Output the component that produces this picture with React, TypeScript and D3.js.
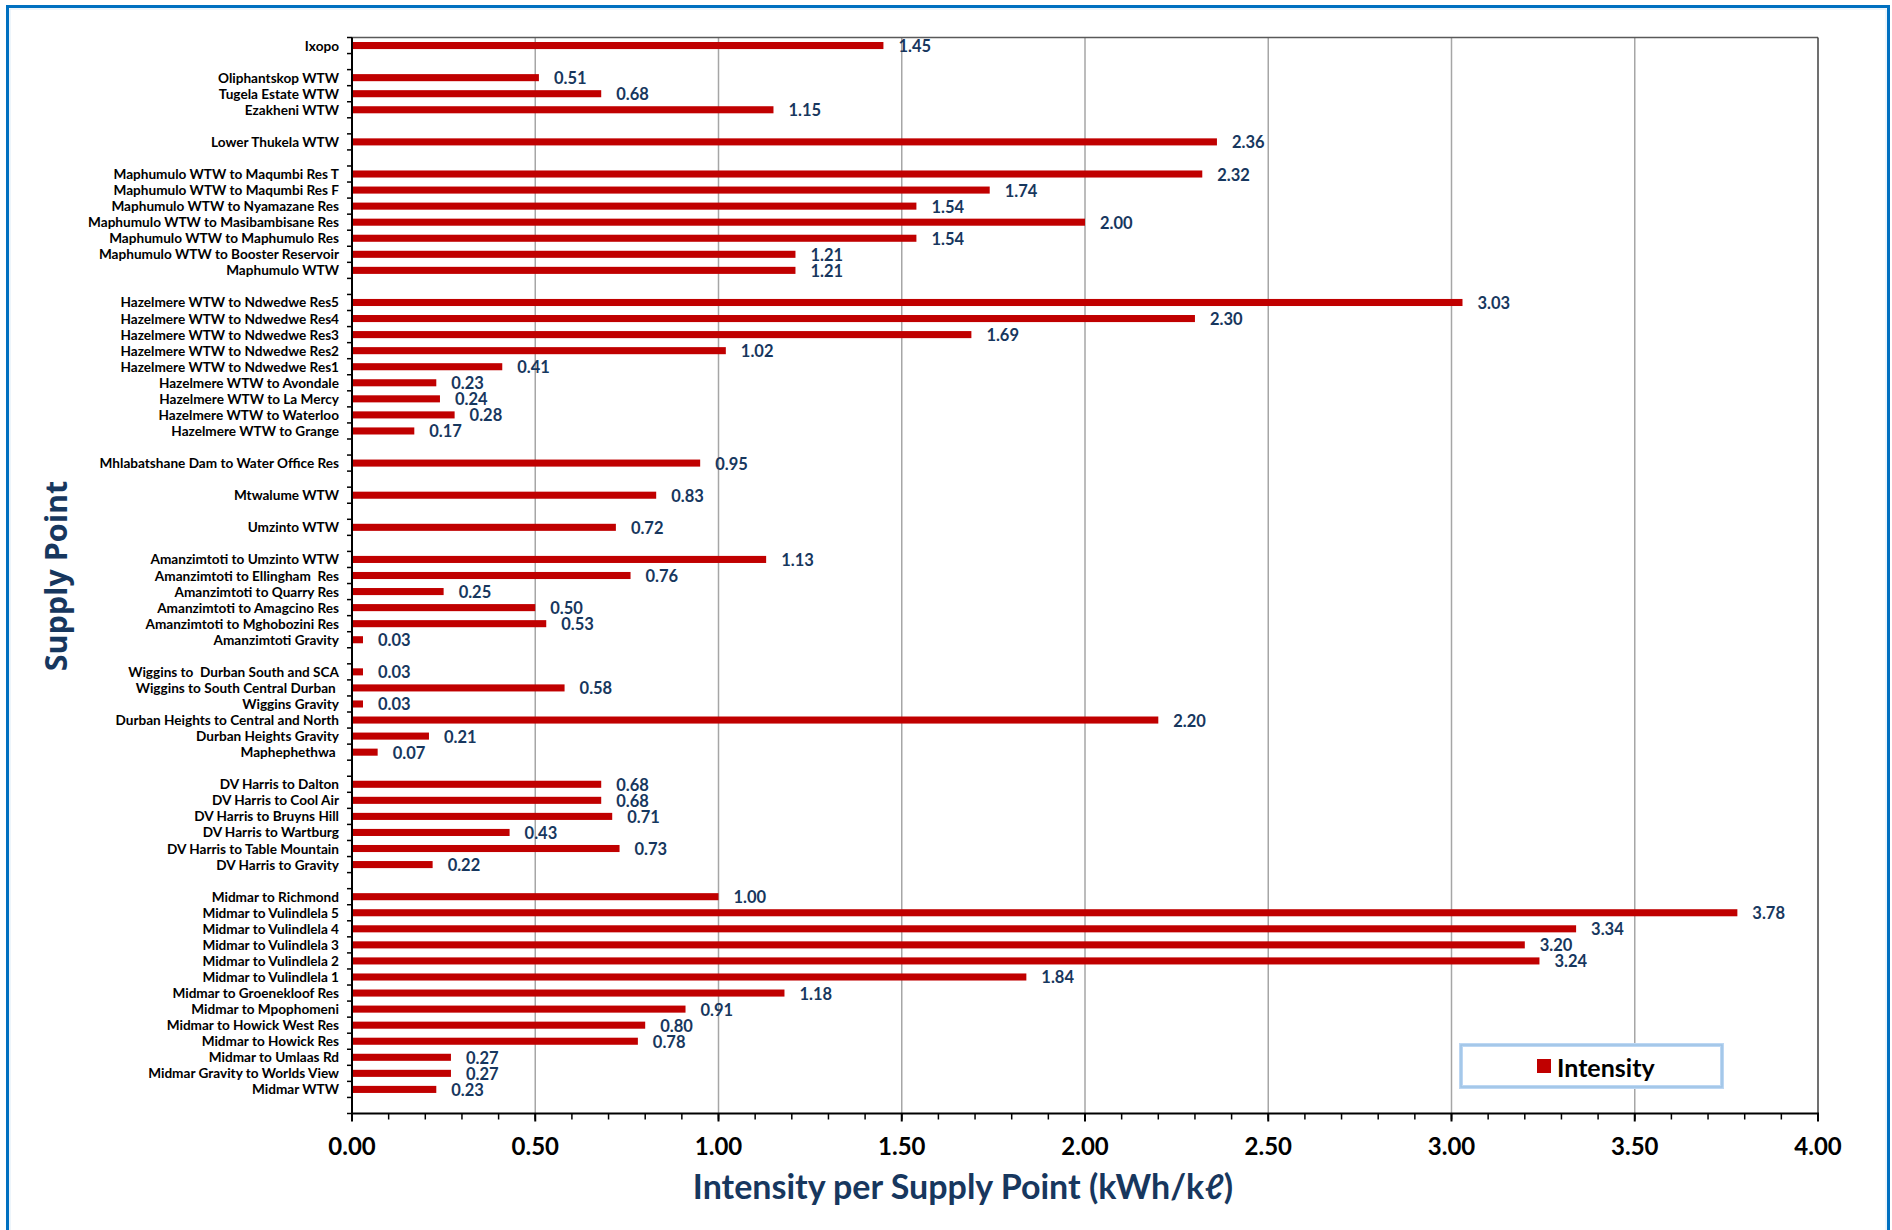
import React from "react";
import * as d3 from "d3";

// Categories top-to-bottom ("" = empty spacer category)
const categories: string[] = [
  "Ixopo", "",
  "Oliphantskop WTW", "Tugela Estate WTW", "Ezakheni WTW", "",
  "Lower Thukela WTW", "",
  "Maphumulo WTW to Maqumbi Res T", "Maphumulo WTW to Maqumbi Res F", "Maphumulo WTW to Nyamazane Res",
  "Maphumulo WTW to Masibambisane Res", "Maphumulo WTW to Maphumulo Res", "Maphumulo WTW to Booster Reservoir",
  "Maphumulo WTW", "",
  "Hazelmere WTW to Ndwedwe Res5", "Hazelmere WTW to Ndwedwe Res4", "Hazelmere WTW to Ndwedwe Res3",
  "Hazelmere WTW to Ndwedwe Res2", "Hazelmere WTW to Ndwedwe Res1", "Hazelmere WTW to Avondale",
  "Hazelmere WTW to La Mercy", "Hazelmere WTW to Waterloo", "Hazelmere WTW to Grange", "",
  "Mhlabatshane Dam to Water Office Res", "",
  "Mtwalume WTW", "",
  "Umzinto WTW", "",
  "Amanzimtoti to Umzinto WTW", "Amanzimtoti to Ellingham  Res", "Amanzimtoti to Quarry Res",
  "Amanzimtoti to Amagcino Res", "Amanzimtoti to Mghobozini Res", "Amanzimtoti Gravity", "",
  "Wiggins to  Durban South and SCA", "Wiggins to South Central Durban ", "Wiggins Gravity",
  "Durban Heights to Central and North", "Durban Heights Gravity", "Maphephethwa ", "",
  "DV Harris to Dalton", "DV Harris to Cool Air", "DV Harris to Bruyns Hill", "DV Harris to Wartburg",
  "DV Harris to Table Mountain", "DV Harris to Gravity", "",
  "Midmar to Richmond", "Midmar to Vulindlela 5", "Midmar to Vulindlela 4", "Midmar to Vulindlela 3",
  "Midmar to Vulindlela 2", "Midmar to Vulindlela 1", "Midmar to Groenekloof Res", "Midmar to Mpophomeni",
  "Midmar to Howick West Res", "Midmar to Howick Res", "Midmar to Umlaas Rd", "Midmar Gravity to Worlds View",
  "Midmar WTW", "",
];

const intensity: (number | null)[] = [
  1.45, null,
  0.51, 0.68, 1.15, null,
  2.36, null,
  2.32, 1.74, 1.54, 2.0, 1.54, 1.21, 1.21, null,
  3.03, 2.3, 1.69, 1.02, 0.41, 0.23, 0.24, 0.28, 0.17, null,
  0.95, null,
  0.83, null,
  0.72, null,
  1.13, 0.76, 0.25, 0.5, 0.53, 0.03, null,
  0.03, 0.58, 0.03, 2.2, 0.21, 0.07, null,
  0.68, 0.68, 0.71, 0.43, 0.73, 0.22, null,
  1.0, 3.78, 3.34, 3.2, 3.24, 1.84, 1.18, 0.91, 0.8, 0.78, 0.27, 0.27, 0.23, null,
];

const xMajorTicks = [0, 0.5, 1, 1.5, 2, 2.5, 3, 3.5, 4];
const xMinorTicks = d3.range(0, 40.5, 1).map((d) => d / 10);

const seriesName = "Intensity";
const xTitle = "Intensity per Supply Point (kWh/kℓ)";
const yTitle = "Supply Point";

const W = 1892;
const H = 1230;
const plot = { left: 352, right: 1818, top: 37.5, bottom: 1113.5 };
const BAR = "#C00000";
const NAVY = "#17375E";

export default function App() {
  const x = d3.scaleLinear().domain([0, 4]).range([plot.left, plot.right]);
  const idx = d3.range(categories.length);
  const y = d3
    .scaleBand<number>()
    .domain(idx)
    .range([plot.top, plot.bottom])
    .paddingInner(0.56)
    .paddingOuter(0.28);
  const step = y.step();
  const bw = y.bandwidth();
  const rowCenter = (i: number) => (y(i) as number) + bw / 2;
  const boundaries = d3.range(categories.length + 1).map((k) => plot.top + k * step);

  return (
    <div style={{ position: "absolute", left: 0, top: 0, width: W, height: H, background: "#fff" }}>
      <svg width={W} height={H} style={{ display: "block" }}>
        <rect x={0} y={0} width={W} height={H} fill="#fff" />
        {/* outer frame */}
        <rect x={7.5} y={6.5} width={1881} height={1260} fill="none" stroke="#0070C0" strokeWidth={3} />
        <rect x={10} y={9} width={1876} height={1260} fill="none" stroke="#DCEBF8" strokeWidth={1} />

        {/* gridlines */}
        {xMajorTicks.filter((t) => t > 0 && t < 4).map((t) => (
          <line key={"g" + t} x1={x(t)} x2={x(t)} y1={plot.top} y2={plot.bottom} stroke="#A6A6A6" strokeWidth={1.5} />
        ))}
        {/* top and right border */}
        <line x1={plot.left} x2={plot.right} y1={plot.top} y2={plot.top} stroke="#595959" strokeWidth={1.5} />
        <line x1={plot.right} x2={plot.right} y1={plot.top} y2={plot.bottom} stroke="#404040" strokeWidth={1.5} />

        {/* bars */}
        {idx.map((i) =>
          intensity[i] == null ? null : (
            <rect key={"b" + i} x={x(0)} y={y(i)} width={x(intensity[i] as number) - x(0)} height={bw} fill={BAR} />
          )
        )}

        {/* data labels */}
        {idx.map((i) =>
          intensity[i] == null ? null : (
            <text
              key={"l" + i}
              x={x(intensity[i] as number) + 15}
              y={rowCenter(i) + 0.5}
              dominantBaseline="central"
              fontFamily="Lato, 'Open Sans', sans-serif"
              fontWeight={700}
              fontSize={16.5}
              fill={NAVY}
            >
              {(intensity[i] as number).toFixed(2)}
            </text>
          )
        )}

        {/* y axis */}
        <line x1={plot.left} x2={plot.left} y1={plot.top} y2={plot.bottom + 1} stroke="#000" strokeWidth={2} />
        {boundaries.map((b, k) => (
          <line key={"yt" + k} x1={plot.left - 5} x2={plot.left} y1={b} y2={b} stroke="#000" strokeWidth={1.5} />
        ))}
        {idx.map((i) =>
          categories[i] === "" ? null : (
            <text
              key={"c" + i}
              x={plot.left - 13}
              y={rowCenter(i)}
              textAnchor="end"
              dominantBaseline="central"
              fontFamily="Lato, 'Open Sans', sans-serif"
              fontWeight={700}
              fontSize={13.6}
              fill="#000"
              style={{ whiteSpace: "pre" }}
            >
              {categories[i]}
            </text>
          )
        )}

        {/* x axis */}
        <line x1={plot.left - 1} x2={plot.right + 1} y1={plot.bottom} y2={plot.bottom} stroke="#000" strokeWidth={2} />
        {xMinorTicks.map((t) => (
          <line key={"mt" + t} x1={x(t)} x2={x(t)} y1={plot.bottom} y2={plot.bottom + 6} stroke="#000" strokeWidth={1.5} />
        ))}
        {xMajorTicks.map((t) => (
          <line key={"Mt" + t} x1={x(t)} x2={x(t)} y1={plot.bottom} y2={plot.bottom + 8} stroke="#000" strokeWidth={2} />
        ))}
        {xMajorTicks.map((t) => (
          <text
            key={"xl" + t}
            x={x(t)}
            y={plot.bottom + 41}
            textAnchor="middle"
            fontFamily="Lato, 'Open Sans', sans-serif"
            fontWeight={700}
            fontSize={24}
            fill="#000"
          >
            {t.toFixed(2)}
          </text>
        ))}

        {/* axis titles */}
        <text
          x={963}
          y={1199}
          textAnchor="middle"
          fontFamily="Lato, 'Open Sans', sans-serif"
          fontWeight={700}
          fontSize={34}
          fill={NAVY}
        >
          {xTitle}
        </text>
        <text
          transform={`translate(67, 576) rotate(-90)`}
          textAnchor="middle"
          fontFamily="'Open Sans', Lato, sans-serif"
          fontWeight={700}
          fontSize={30.5}
          fill={NAVY}
        >
          {yTitle}
        </text>

        {/* legend */}
        <rect x={1461} y={1045} width={261} height={42} fill="#fff" stroke="#BDD7F3" strokeWidth={4} />
        <rect x={1461} y={1045} width={261} height={42} fill="none" stroke="#9DC3E6" strokeWidth={1.5} />
        <rect x={1537} y={1059} width={14} height={14} fill={BAR} />
        <text
          x={1557}
          y={1067}
          dominantBaseline="central"
          fontFamily="Lato, 'Open Sans', sans-serif"
          fontWeight={700}
          fontSize={25}
          fill="#000"
        >
          {seriesName}
        </text>
      </svg>
    </div>
  );
}
